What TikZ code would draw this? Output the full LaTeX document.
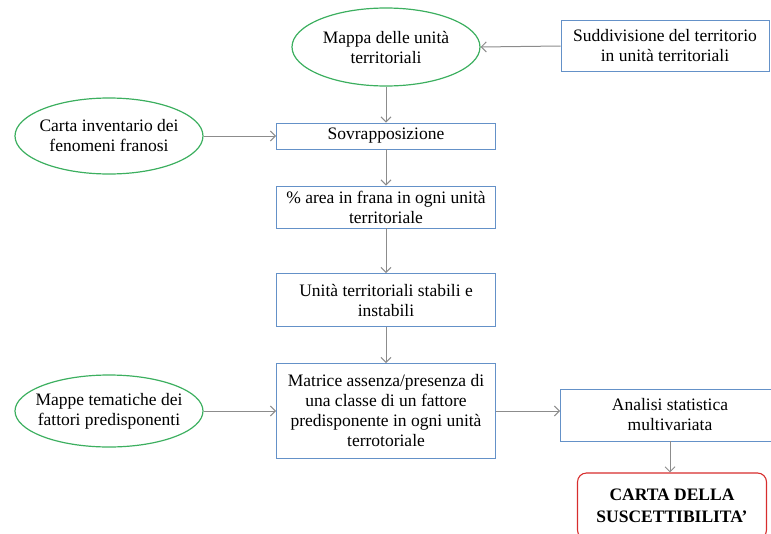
\documentclass[tikz,border=0pt]{standalone}
\usepackage{fontspec}
\setmainfont{Liberation Serif}
\usetikzlibrary{arrows.meta,shapes.geometric}
\definecolor{ovalgreen}{RGB}{60,175,95}
\definecolor{boxblue}{RGB}{100,145,200}
\definecolor{endred}{RGB}{215,45,45}
\definecolor{linkgray}{RGB}{140,140,140}
\tikzset{
	txt/.style={font=\fontsize{17.5}{20}\selectfont, align=center, inner sep=0pt},
	oval/.style={txt, ellipse, inner xsep=-12pt, inner ysep=-4pt, draw=ovalgreen, line width=1.2pt, minimum width=188pt, minimum height=78pt},
	stepbox/.style={txt, rectangle, draw=boxblue, line width=0.9pt, minimum width=219pt},
	endbox/.style={txt, rectangle, rounded corners=9pt, draw=endred, line width=1.1pt, font=\fontsize{17.5}{22}\selectfont\bfseries},
	link/.style={draw=linkgray, line width=1pt, -{Straight Barb[length=5pt,width=10pt]}}
}

\begin{document}
\begin{tikzpicture}[x=1pt, y=-1pt]
			%%%%% START %%%%%
			\useasboundingbox (0, 0) rectangle (771, 533);
			
			\node[oval] (mappa) at (386, 47) {Mappa delle unità\\territoriali};
			\node[stepbox, minimum width=208pt, minimum height=51pt] (suddiv) at (665, 46) {Suddivisione del territorio\\in unità territoriali};
			
			\node[oval, minimum height=76pt] (carta) at (109, 136) {Carta inventario dei\\fenomeni franosi};
			\node[stepbox, minimum height=26pt] (sovr) at (386, 136) {Sovrapposizione};
			\node[stepbox, minimum height=42pt] (area) at (386, 207) {\% area in frana in ogni unità\\territoriale};
			\node[stepbox, minimum height=53pt] (unita) at (386, 300) {Unità territoriali stabili e\\instabili};
			\node[stepbox, minimum height=95pt] (matrice) at (386, 411) {Matrice assenza/presenza di\\una classe di un fattore\\predisponente in ogni unità\\terrotoriale};
			
			\node[oval, minimum height=72pt] (mappe) at (109, 411) {Mappe tematiche dei\\fattori predisponenti};
			\node[stepbox, minimum height=52pt] (analisi) at (670, 415) {Analisi statistica\\multivariata};
			\node[endbox, minimum width=189pt, minimum height=66pt] (esito) at (672, 506) {CARTA DELLA\\SUSCETTIBILITA’};
			
			\draw[link] (suddiv.west) -- (mappa.east);
			\draw[link] (mappa.south) -- (sovr.north);
			\draw[link] (carta.east) -- (sovr.west);
			\draw[link] (sovr.south) -- (area.north);
			\draw[link] (area.south) -- (unita.north);
			\draw[link] (unita.south) -- (matrice.north);
			\draw[link] (mappe.east) -- (matrice.west);
			\draw[link] (matrice.east) -- (matrice.east -| analisi.west);
			\draw[link] (analisi.south) -- (analisi.south |- esito.north);
			
			%%%%% END %%%%%
\end{tikzpicture}
\end{document}
